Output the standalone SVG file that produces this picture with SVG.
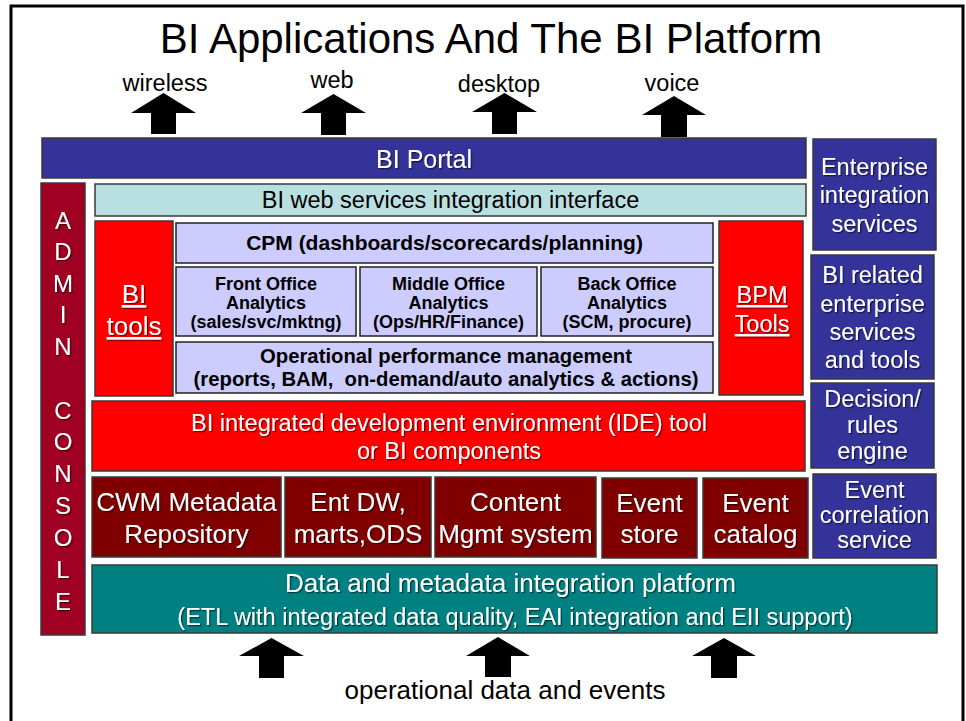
<svg xmlns="http://www.w3.org/2000/svg" width="966" height="721" viewBox="0 0 966 721">
<defs>
<filter id="sh" x="-10%" y="-10%" width="130%" height="140%">
<feDropShadow dx="1.3" dy="1.3" stdDeviation="0.4" flood-color="#000" flood-opacity="0.55"/>
</filter>
<style>
text{font-family:"Liberation Sans",Arial,sans-serif;text-anchor:middle}
.w{fill:#fff;filter:url(#sh)}
.k{fill:#000}
.b{font-weight:bold}
.f26{font-size:26px}
.f235{font-size:23.5px}
.f24{font-size:24px}
.f21{font-size:21px}
.f20{font-size:20.3px}
.f18{font-size:18px}
.blue{fill:#333399;stroke:#3a3a3a;stroke-width:1.5}
.red{fill:#FF0000;stroke:#3a3a3a;stroke-width:1.5}
.dred{fill:#800000;stroke:#3a3a3a;stroke-width:1.5}
.lav{fill:#CCCCFF;stroke:#222;stroke-width:1.5}
.u{text-decoration:underline}
.arr{fill:#000}
</style>
</defs>
<rect x="0" y="0" width="966" height="721" fill="#fff"/>
<rect x="11" y="6" width="952" height="730" fill="none" stroke="#000" stroke-width="3"/>
<text x="491" y="53" style="font-size:42px" class="k">BI Applications And The BI Platform</text>

<g id="channels">
<text x="165" y="91" class="k f235">wireless</text>
<text x="332" y="88" class="k f235">web</text>
<text x="499" y="92" class="k f235">desktop</text>
<text x="672" y="91" class="k f235">voice</text>
</g>

<g id="connectors">
<polygon class="arr" points="163.5,93 196,113 176,113 176,134 151,134 151,113 131,113"/>
<polygon class="arr" points="333.5,94 366,113 346,113 346,135 321,135 321,113 301,113"/>
<polygon class="arr" points="504.5,93 537,112 517,112 517,134 492,134 492,112 472,112"/>
<polygon class="arr" points="674,96 706,115 687,115 687,137 661,137 661,115 642,115"/>
<polygon class="arr" points="271.5,638 304,656 284,656 284,678 259,678 259,656 239,656"/>
<polygon class="arr" points="498,637 530,656 511,656 511,677 485,677 485,656 466,656"/>
<polygon class="arr" points="724,638 756,656 737,656 737,678 711,678 711,656 692,656"/>
</g>

<g id="bi-portal">
<rect class="blue" x="42" y="138" width="764" height="40"/>
<text x="424" y="168" class="w" style="font-size:25px">BI Portal</text>
</g>

<g id="admin-console">
<rect x="41" y="183" width="44" height="452" fill="#A00021" stroke="#3a3a3a" stroke-width="1.5"/>
<text class="w f24" x="63" y="229">A</text>
<text class="w f24" x="63" y="260">D</text>
<text class="w f24" x="63" y="292">M</text>
<text class="w f24" x="63" y="323">I</text>
<text class="w f24" x="63" y="355">N</text>
<text class="w f24" x="63" y="419">C</text>
<text class="w f24" x="63" y="450">O</text>
<text class="w f24" x="63" y="482">N</text>
<text class="w f24" x="63" y="514">S</text>
<text class="w f24" x="63" y="546">O</text>
<text class="w f24" x="63" y="578">L</text>
<text class="w f24" x="63" y="610">E</text>
</g>

<g id="web-services">
<rect x="95" y="184" width="711" height="32" fill="#B9E0E1" stroke="#3a3a3a" stroke-width="1.5"/>
<text x="450.5" y="208" class="k f235">BI web services integration interface</text>
</g>

<g id="bi-tools">
<rect class="red" x="95" y="221" width="78" height="175"/>
<text x="134" y="303" class="w u" style="font-size:26px">BI</text>
<text x="134" y="335" class="w u" style="font-size:26px">tools</text>
</g>

<g id="cpm">
<rect class="lav" x="176" y="223" width="537" height="40"/>
<text x="444.5" y="250" class="k b f21">CPM (dashboards/scorecards/planning)</text>
</g>

<g id="front-office">
<rect class="lav" x="176" y="267" width="180" height="69"/>
<text x="266" y="290" class="k b f18">Front Office</text>
<text x="266" y="309" class="k b f18">Analytics</text>
<text x="266" y="328" class="k b f18">(sales/svc/mktng)</text>
</g>

<g id="middle-office">
<rect class="lav" x="360" y="267" width="177" height="69"/>
<text x="448.5" y="290" class="k b f18">Middle Office</text>
<text x="448.5" y="309" class="k b f18">Analytics</text>
<text x="448.5" y="328" class="k b f18">(Ops/HR/Finance)</text>
</g>

<g id="back-office">
<rect class="lav" x="541" y="267" width="172" height="69"/>
<text x="627" y="290" class="k b f18">Back Office</text>
<text x="627" y="309" class="k b f18">Analytics</text>
<text x="627" y="328" class="k b f18">(SCM, procure)</text>
</g>

<g id="operational-pm">
<rect class="lav" x="176" y="342" width="537" height="51"/>
<text x="446" y="363" class="k b f20">Operational performance management</text>
<text x="446" y="386" class="k b f20" style="white-space:pre" xml:space="preserve">(reports, BAM,  on-demand/auto analytics &amp; actions)</text>
</g>

<g id="bpm-tools">
<rect class="red" x="719" y="221" width="84" height="174"/>
<text x="762" y="303" class="w u f235">BPM</text>
<text x="762" y="332" class="w u f235">Tools</text>
</g>

<g id="ide">
<rect class="red" x="92" y="401" width="713" height="70"/>
<text x="449" y="431" class="w f235">BI integrated development environment (IDE) tool</text>
<text x="449" y="459" class="w f235">or BI components</text>
</g>

<g id="cwm">
<rect class="dred" x="92" y="477" width="189" height="80"/>
<text x="186.5" y="511" class="w f26">CWM Metadata</text>
<text x="186.5" y="543" class="w f26">Repository</text>
</g>

<g id="ent-dw">
<rect class="dred" x="285" y="477" width="146" height="80"/>
<text x="358" y="511" class="w f26">Ent DW,</text>
<text x="358" y="543" class="w f26">marts,ODS</text>
</g>

<g id="content-mgmt">
<rect class="dred" x="435" y="477" width="161" height="80"/>
<text x="515.5" y="511" class="w f26">Content</text>
<text x="515.5" y="543" class="w f26">Mgmt system</text>
</g>

<g id="event-store">
<rect class="dred" x="602" y="478" width="95" height="80"/>
<text x="649.5" y="512" class="w f26">Event</text>
<text x="649.5" y="543" class="w f26">store</text>
</g>

<g id="event-catalog">
<rect class="dred" x="703" y="478" width="105" height="80"/>
<text x="755.5" y="512" class="w f26">Event</text>
<text x="755.5" y="543" class="w f26">catalog</text>
</g>

<g id="data-integration">
<rect x="92" y="565" width="845" height="68" fill="#008080" stroke="#3a3a3a" stroke-width="1.5"/>
<text x="510.5" y="592" class="w f26">Data and metadata integration platform</text>
<text x="515" y="625" class="w f235">(ETL with integrated data quality, EAI integration and EII support)</text>
</g>

<g id="enterprise-integration">
<rect class="blue" x="813" y="139" width="123" height="111"/>
<text x="874.5" y="175" class="w f235">Enterprise</text>
<text x="874.5" y="203" class="w f235">integration</text>
<text x="874.5" y="232" class="w f235">services</text>
</g>

<g id="bi-related-services">
<rect class="blue" x="811" y="255" width="123" height="124"/>
<text x="872.5" y="283" class="w f235">BI related</text>
<text x="872.5" y="312" class="w f235">enterprise</text>
<text x="872.5" y="340" class="w f235">services</text>
<text x="872.5" y="368" class="w f235">and tools</text>
</g>

<g id="decision-engine">
<rect class="blue" x="811" y="383" width="123" height="85"/>
<text x="872.5" y="407" class="w f235">Decision/</text>
<text x="872.5" y="433" class="w f235">rules</text>
<text x="872.5" y="459" class="w f235">engine</text>
</g>

<g id="event-correlation">
<rect class="blue" x="813" y="474" width="123" height="84"/>
<text x="874.5" y="498" class="w f235">Event</text>
<text x="874.5" y="523" class="w f235">correlation</text>
<text x="874.5" y="548" class="w f235">service</text>
</g>

<g id="source">
<text x="505" y="699" class="k f26">operational data and events</text>
</g>
</svg>
